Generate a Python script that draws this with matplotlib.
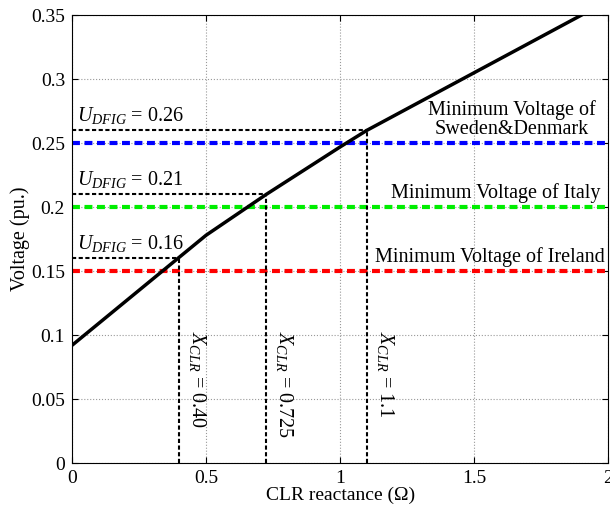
import numpy as np
import matplotlib
matplotlib.use('Agg')
import matplotlib.pyplot as plt
from matplotlib.ticker import FuncFormatter

plt.rcParams['font.family'] = 'Liberation Serif'
plt.rcParams['mathtext.fontset'] = 'custom'
plt.rcParams['mathtext.rm'] = 'Liberation Serif'
plt.rcParams['mathtext.it'] = 'Liberation Serif:italic'

# curve: voltage vs CLR reactance
clr_x = [0, 0.5, 0.725, 1.0, 1.1, 1.5, 1.9]
volt_y = [0.092, 0.178, 0.21, 0.247, 0.26, 0.305, 0.35]

# country minimum voltage limits
limit_names = ['Minimum Voltage of\nSweden&Denmark', 'Minimum Voltage of Italy',
               'Minimum Voltage of Ireland']
limit_vals = [0.25, 0.2, 0.15]
limit_colors = ['#0000ff', '#00ee00', '#ff0000']
limit_text_x = [1.64, 1.58, 1.56]

# operating points
op_x = [0.40, 0.725, 1.1]
op_y = [0.16, 0.21, 0.26]
op_xlab = ['0.40', '0.725', '1.1']
op_ylab = ['0.16', '0.21', '0.26']

fs = 14.5

fig = plt.figure(figsize=(6.1, 5.05), dpi=100)
ax = fig.add_axes([0.118, 0.083, 0.879, 0.887])

for v, c in zip(limit_vals, limit_colors):
    ax.plot([0, 2], [v, v], color=c, lw=3, dashes=(1.9, 1.1))

for x, y, xl, yl in zip(op_x, op_y, op_xlab, op_ylab):
    ax.plot([0, x], [y, y], 'k', lw=1.5, dashes=(2, 1.2))
    ax.plot([x, x], [0, y], 'k', lw=1.5, dashes=(2, 1.2))
    ax.text(0.02, y + 0.003, r'$U_{DFIG}$ = ' + yl, fontsize=fs, ha='left', va='bottom')
    ax.text(x + 0.03, 0.103, r'$X_{CLR}$ = ' + xl, fontsize=fs, rotation=-90,
            ha='left', va='top')

ax.plot(clr_x, volt_y, 'k', lw=2.5)

for name, v, tx in zip(limit_names, limit_vals, limit_text_x):
    ax.text(tx, v + 0.003, name, fontsize=fs, ha='center', va='bottom',
            multialignment='center', linespacing=1.05)

ax.set_xlim(0, 2)
ax.set_ylim(0, 0.35)
ax.set_xticks([0, 0.5, 1, 1.5, 2])
ax.set_yticks(np.arange(0, 0.351, 0.05))
ax.xaxis.set_major_formatter(FuncFormatter(lambda v, p: '%g' % round(v, 3)))
ax.yaxis.set_major_formatter(FuncFormatter(lambda v, p: '%g' % round(v, 3)))
ax.tick_params(direction='in', top=True, right=True, labelsize=14, length=4, pad=5)
ax.grid(True, color='#999999', linestyle=':', lw=0.8)
ax.set_xlabel('CLR reactance (Ω)', fontsize=14, labelpad=0)
ax.set_ylabel('Voltage (pu.)', fontsize=fs, labelpad=1)

fig.savefig('out.png', dpi=100)
